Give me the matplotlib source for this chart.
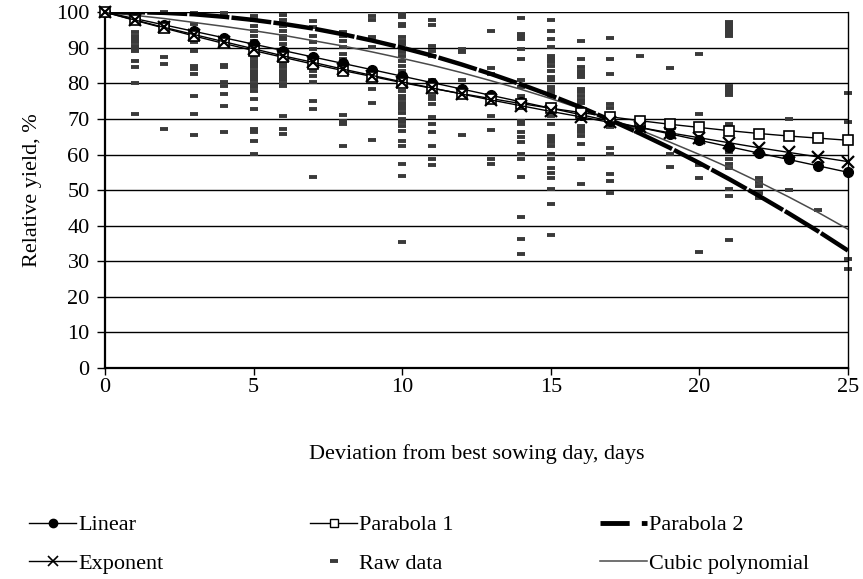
#!/usr/bin/env python
"""Relative yield vs deviation from best sowing day: raw data and fitted curves."""
import matplotlib
matplotlib.use("Agg")
import matplotlib.pyplot as plt
from matplotlib.lines import Line2D

plt.rcParams['font.family'] = ['Liberation Serif', 'DejaVu Serif']

days = list(range(0, 26))

linear = [100.0, 98.2, 96.4, 94.6, 92.8, 91.0, 89.2, 87.4, 85.6, 83.8, 82.0, 80.2, 78.4,
          76.6, 74.8, 73.0, 71.2, 69.4, 67.6, 65.8, 64.0, 62.2, 60.4, 58.6, 56.8, 55.0]
parabola1 = [100.0, 97.7, 95.5, 93.3, 91.2, 89.2, 87.3, 85.4, 83.6, 81.9, 80.2, 78.6, 77.1,
             75.7, 74.3, 73.0, 71.8, 70.6, 69.5, 68.5, 67.6, 66.7, 65.9, 65.2, 64.6, 64.0]
exponent = [100.0, 97.8, 95.7, 93.7, 91.7, 89.7, 87.7, 85.9, 84.0, 82.2, 80.4, 78.7, 77.0,
            75.3, 73.7, 72.1, 70.6, 69.0, 67.6, 66.1, 64.7, 63.3, 61.9, 60.6, 59.3, 58.0]
parabola2 = [100.0, 100.0, 99.8, 99.4, 98.7, 97.8, 96.7, 95.4, 93.8, 92.0, 90.0, 87.8, 85.3,
             82.6, 79.7, 76.6, 73.3, 69.7, 65.9, 61.9, 57.6, 53.1, 48.4, 43.5, 38.4, 33.0]
cubic = [100.0, 99.1, 98.2, 97.1, 96.0, 94.8, 93.5, 92.0, 90.5, 88.8, 87.0, 85.1, 83.0,
         80.7, 78.3, 75.7, 72.9, 70.0, 66.9, 63.5, 60.0, 56.3, 52.3, 48.1, 43.7, 39.0]

# raw observations, one list per day (days 1..25)
raw_days = list(range(1, 26))
raw_yield = [
    [98.1, 94.4, 93.4, 92.5, 91.5, 90.6, 89.9, 89.2, 86.4, 84.5, 80.1, 71.4],
    [100.0, 96.5, 87.3, 85.4, 67.3],
    [99.8, 96.7, 93.0, 91.5, 89.2, 85.0, 84.0, 82.6, 76.5, 71.4, 65.4],
    [99.8, 91.5, 90.1, 85.2, 84.7, 80.5, 79.3, 77.0, 73.7, 66.4],
    [98.9, 97.7, 96.2, 94.8, 93.4, 92.0, 91.1, 90.1, 89.2, 88.3, 87.3, 86.4, 85.4, 84.5,
     83.6, 82.6, 81.7, 80.8, 79.8, 78.9, 77.9, 75.6, 72.8, 67.1, 66.2, 63.8, 60.1],
    [99.1, 97.7, 96.2, 94.8, 93.4, 92.5, 91.1, 88.3, 87.3, 86.4, 85.4, 84.5, 83.6, 82.6,
     81.7, 80.8, 79.8, 79.3, 70.9, 67.3, 65.7],
    [97.4, 95.8, 93.4, 91.7, 89.7, 86.4, 85.0, 83.6, 82.2, 80.5, 75.1, 72.8, 53.7],
    [94.4, 93.4, 92.0, 90.1, 88.3, 86.9, 83.1, 71.1, 69.5, 68.5, 62.3],
    [98.9, 97.9, 93.0, 90.1, 83.1, 81.7, 78.4, 74.6, 64.1],
    [99.5, 98.6, 96.7, 96.2, 93.0, 92.0, 91.1, 89.7, 88.7, 87.8, 86.4, 85.0, 83.6, 82.2,
     80.8, 79.3, 77.9, 76.5, 75.6, 74.6, 73.7, 72.8, 71.8, 69.9, 69.0, 68.1, 66.6, 63.8,
     62.4, 57.3, 54.0, 35.4],
    [97.7, 96.4, 90.6, 89.2, 87.8, 80.8, 79.8, 78.9, 77.9, 76.5, 75.6, 74.2, 70.4, 68.5,
     66.2, 62.4, 58.7, 57.0],
    [89.7, 88.7, 81.0, 77.7, 65.4],
    [94.8, 84.2, 82.6, 70.9, 66.9, 58.7, 57.3],
    [98.3, 93.9, 93.2, 92.5, 89.7, 86.9, 80.8, 78.9, 76.5, 75.1, 69.5, 68.5, 66.2, 64.8,
     63.4, 60.1, 58.7, 53.8, 42.3, 36.3, 31.9],
    [97.9, 94.8, 92.5, 90.1, 87.8, 86.9, 85.9, 85.0, 83.6, 81.7, 80.8, 78.9, 78.4, 77.5,
     76.5, 73.7, 70.9, 68.5, 65.2, 64.3, 63.4, 62.4, 60.1, 58.7, 56.3, 54.9, 53.5, 50.2,
     46.0, 37.3],
    [92.0, 86.9, 84.5, 83.6, 82.6, 81.7, 78.4, 77.7, 76.5, 75.4, 74.6, 68.1, 67.1, 66.2,
     65.3, 62.9, 58.7, 51.6],
    [92.8, 86.9, 82.6, 74.2, 73.2, 69.5, 68.5, 67.6, 61.7, 60.1, 54.5, 52.6, 49.1],
    [87.8, 69.5, 67.1],
    [84.2, 60.1, 56.6],
    [88.3, 71.4, 57.0, 53.5, 32.6],
    [97.2, 96.5, 95.7, 95.0, 94.2, 93.4, 79.3, 78.4, 77.5, 76.7, 68.5, 60.6, 58.7, 57.3,
     56.3, 50.4, 48.2, 35.9],
    [65.3, 53.5, 52.3, 51.2, 49.1, 47.9],
    [70.1, 50.0],
    [44.4],
    [77.3, 69.0, 30.5, 27.7],
]

raw_x = [d for d, vals in zip(raw_days, raw_yield) for _ in vals]
raw_y = [v for vals in raw_yield for v in vals]

fig = plt.figure(figsize=(8.63, 5.79), dpi=100)
ax = fig.add_axes([0.1217, 0.3644, 0.8609, 0.6146])

ax.set_axisbelow(True)
ax.yaxis.grid(True, color='black', lw=1.0)

ax.plot(raw_x, raw_y, ls='none', marker='_', ms=6, mew=2.8, color='#3a3a3a',
        clip_on=False, zorder=2)
ax.plot(days, cubic, color='#4a4a4a', lw=1.1, zorder=3)
ax.plot(days, parabola2, color='black', lw=3.2, dashes=(9, 0.5), zorder=4)
ax.plot(days, linear, color='black', lw=1.0, marker='o', ms=7, clip_on=False, zorder=5)
ax.plot(days, parabola1, color='black', lw=1.0, marker='s', ms=7.5, mfc='white',
        mew=1.2, clip_on=False, zorder=5)
ax.plot(days, exponent, color='black', lw=1.0, marker='x', ms=8, mew=1.6,
        clip_on=False, zorder=6)

ax.set_xlim(0, 25)
ax.set_ylim(0, 100)
ax.set_xticks(range(0, 26, 5))
ax.set_yticks(range(0, 101, 10))
ax.tick_params(axis='both', labelsize=16, direction='out', color='black')
ax.tick_params(axis='y', length=6, width=1, pad=5)
ax.tick_params(axis='x', length=5, width=1, pad=2)
for side in ('left', 'bottom'):
    ax.spines[side].set_linewidth(1.6)
ax.spines['right'].set_linewidth(1.0)
ax.spines['top'].set_visible(False)

ax.set_xlabel('Deviation from best sowing day, days', fontsize=16, labelpad=34)
ax.set_ylabel('Relative yield, %', fontsize=16, labelpad=10)

handles = [
    Line2D([], [], color='black', lw=1.0, marker='o', ms=6),
    Line2D([], [], color='black', lw=1.0, marker='x', ms=7, mew=1.2),
    Line2D([], [], color='black', lw=1.0, marker='s', ms=6, mfc='white'),
    Line2D([], [], ls='none', marker='_', ms=6, mew=2.8, color='#3a3a3a'),
    Line2D([], [], color='black', lw=3.5, dashes=(6, 2.5)),
    Line2D([], [], color='#4a4a4a', lw=1.1),
]
labels = ['Linear', 'Exponent', 'Parabola 1', 'Raw data', 'Parabola 2', 'Cubic polynomial']
fig.legend(handles, labels, ncol=3, loc='center', bbox_to_anchor=(0.486, 0.060),
           frameon=False, fontsize=16, handlelength=2.1, handletextpad=0.1,
           columnspacing=6.6, labelspacing=0.8)

plt.savefig('out.png', dpi=100)
plt.close()
